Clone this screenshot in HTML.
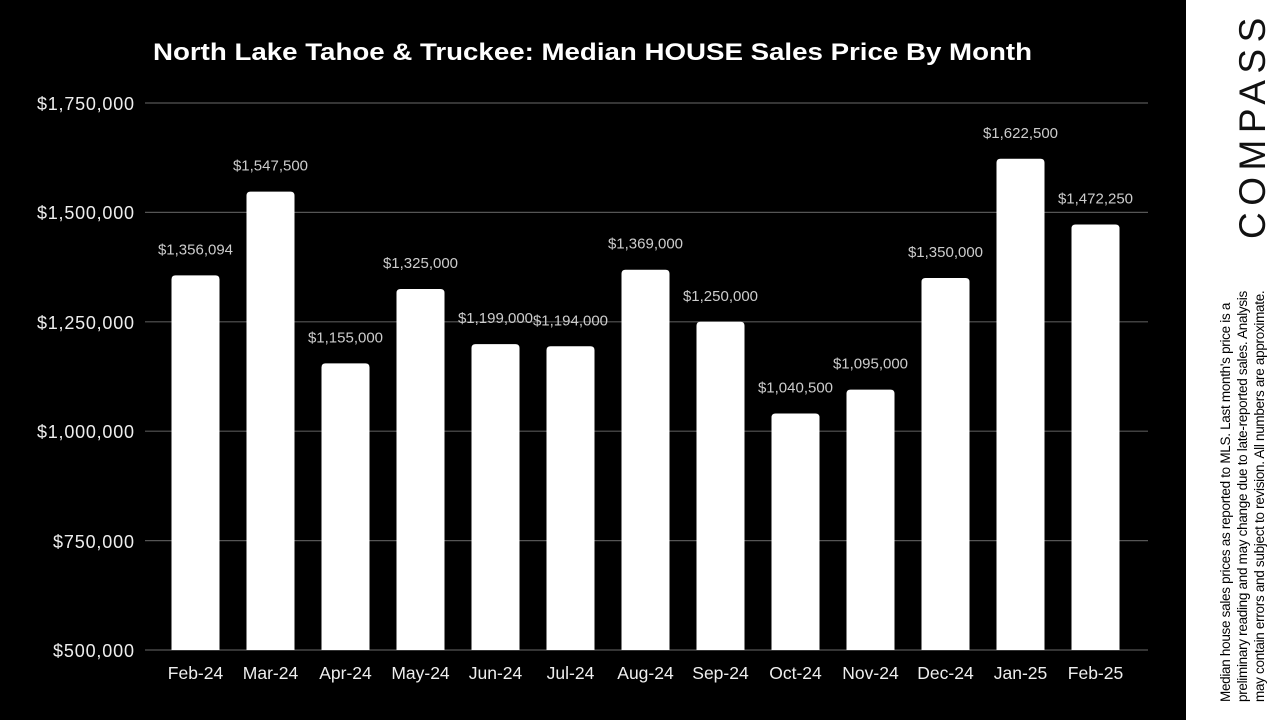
<!DOCTYPE html>
<html><head><style>
body{margin:0;width:1280px;height:720px;background:#fff;position:relative;overflow:hidden;font-family:"Liberation Sans",sans-serif}
#chart{position:absolute;left:0;top:0;width:1186px;height:720px;background:#000}
.side{position:absolute;white-space:nowrap;transform:rotate(-90deg);transform-origin:left top}
</style></head><body>
<div id="chart">
<svg width="1186" height="720" font-family="Liberation Sans, sans-serif">
<text x="153" y="60" fill="#fff" font-size="24" font-weight="bold" textLength="879" lengthAdjust="spacingAndGlyphs">North Lake Tahoe &amp; Truckee: Median HOUSE Sales Price By Month</text>
<g stroke="#555" stroke-width="1.2">
<line x1="145" x2="1148" y1="103" y2="103"/><line x1="145" x2="1148" y1="212.4" y2="212.4"/>
<line x1="145" x2="1148" y1="321.8" y2="321.8"/><line x1="145" x2="1148" y1="431.2" y2="431.2"/>
<line x1="145" x2="1148" y1="540.6" y2="540.6"/><line x1="145" x2="1148" y1="650" y2="650"/>
</g>
<g fill="#eee" font-size="18" text-anchor="end" lengthAdjust="spacingAndGlyphs">
<text x="134" y="110" textLength="97">$1,750,000</text><text x="134" y="219" textLength="97">$1,500,000</text>
<text x="134" y="329" textLength="97">$1,250,000</text><text x="134" y="438" textLength="97">$1,000,000</text>
<text x="134" y="548" textLength="81">$750,000</text><text x="134" y="657" textLength="81">$500,000</text>
</g>
<g id="bars"></g>
</svg>
</div>
<div class="side" style="left:1232px;top:239px;font-size:37px;letter-spacing:6.5px;color:#111">COMPASS</div>
<div class="side" style="left:1217px;top:702px;font-size:13.5px;line-height:17px;color:#000;font-family:'Liberation Sans Narrow','Liberation Sans',sans-serif;letter-spacing:-0.3px">Median house sales prices as reported to MLS. Last month's price is a<br>preliminary reading and may change due to late-reported sales. Analysis<br>may contain errors and subject to revision. All numbers are approximate.</div>
<script>
var d=[["Feb-24",1356094],["Mar-24",1547500],["Apr-24",1155000],["May-24",1325000],["Jun-24",1199000],["Jul-24",1194000],["Aug-24",1369000],["Sep-24",1250000],["Oct-24",1040500],["Nov-24",1095000],["Dec-24",1350000],["Jan-25",1622500],["Feb-25",1472250]];
var s="";d.forEach(function(e,i){var c=195.5+i*75,y=650-(e[1]-500000)/250000*109.4;
s+='<path d="M'+(c-24)+' 650V'+(y+4)+'Q'+(c-24)+' '+y+' '+(c-20)+' '+y+'H'+(c+20)+'Q'+(c+24)+' '+y+' '+(c+24)+' '+(y+4)+'V650Z" fill="#fff"/>';
s+='<text x="'+c+'" y="'+(y-21)+'" fill="#ccc" font-size="15" text-anchor="middle">$'+e[1].toLocaleString("en-US")+'</text>';
s+='<text x="'+c+'" y="679" fill="#eee" font-size="17.5" text-anchor="middle">'+e[0]+'</text>';});
document.getElementById("bars").innerHTML=s;
</script>
</body></html>
